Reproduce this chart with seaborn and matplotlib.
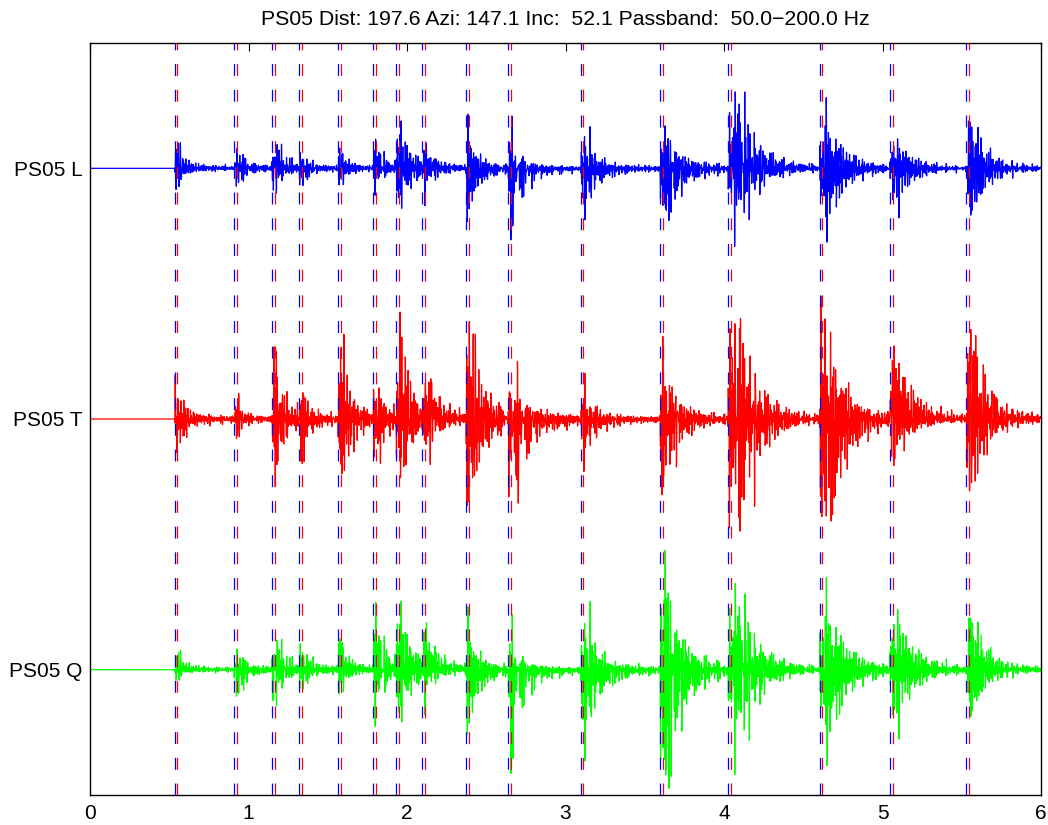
import numpy as np
import matplotlib
matplotlib.use("Agg")
import matplotlib.pyplot as plt
import seaborn as sns

# ---------------------------------------------------------------- data
station = "PS05"
components = ["L", "T", "Q"]
trace_colors = ["#0000ff", "#ff0000", "#00ff00"]
trace_offsets = [3, 2, 1]

title_text = "PS05 Dist: 197.6 Azi: 147.1 Inc:  52.1 Passband:  50.0\u2212200.0 Hz"
x_ticks = [0, 1, 2, 3, 4, 5, 6]

# arrival picks (s)
pick_blue = [0.534, 0.909, 1.148, 1.319, 1.565, 1.786, 1.931, 2.096, 2.372, 2.637,
             3.096, 3.596, 4.023, 4.603, 5.045, 5.529]
pick_red = [0.551, 0.926, 1.165, 1.336, 1.582, 1.803, 1.948, 2.113, 2.389, 2.654,
            3.113, 3.613, 4.042, 4.620, 5.064, 5.546]

# time from onset to envelope maximum, and decay time (s), per arrival
rise_time = [0.008, 0.008, 0.008, 0.008, 0.010, 0.015, 0.010, 0.020, 0.010, 0.010,
             0.010, 0.015, 0.070, 0.040, 0.030, 0.030]
decay_time = [0.040, 0.035, 0.045, 0.040, 0.045, 0.055, 0.060, 0.060, 0.060, 0.060,
              0.060, 0.080, 0.110, 0.095, 0.095, 0.080]

# peak positive / negative excursion of each arrival (trace units)
L_up = [0.104, 0.084, 0.092, 0.060, 0.080, 0.116, 0.192, 0.096, 0.216, 0.212,
        0.172, 0.164, 0.304, 0.284, 0.120, 0.192]
L_down = [0.080, 0.072, 0.104, 0.072, 0.068, 0.108, 0.160, 0.140, 0.216, 0.288,
          0.200, 0.196, 0.308, 0.300, 0.196, 0.188]
T_up = [0.176, 0.100, 0.296, 0.104, 0.332, 0.148, 0.408, 0.164, 0.384, 0.228,
        0.192, 0.332, 0.404, 0.500, 0.280, 0.344]
T_down = [0.132, 0.084, 0.272, 0.176, 0.244, 0.176, 0.232, 0.164, 0.364, 0.336,
          0.200, 0.300, 0.444, 0.408, 0.180, 0.296]
Q_up = [0.072, 0.080, 0.116, 0.108, 0.124, 0.264, 0.276, 0.188, 0.248, 0.224,
        0.284, 0.476, 0.344, 0.360, 0.244, 0.216]
Q_down = [0.040, 0.104, 0.144, 0.072, 0.096, 0.232, 0.216, 0.164, 0.256, 0.416,
          0.360, 0.468, 0.416, 0.376, 0.268, 0.184]

# background level after the first arrival (trace units)
noise_level = [0.014, 0.014, 0.012]

peaks_up = [L_up, T_up, Q_up]
peaks_down = [L_down, T_down, Q_down]

# ---------------------------------------------------------------- synthesis
t = np.arange(0.0, 6.0, 0.001)                       # 1 kHz samples
band_freqs = np.array([52.3, 61.7, 74.9, 88.1, 101.6, 117.4, 132.8,
                       149.3, 166.2, 181.7, 196.4])  # inside the 50-200 Hz band


def band_carrier(tt, key):
    ph = (np.arange(len(band_freqs)) + 1) * (key * 2.39996 + 0.7)
    s = np.sin(2 * np.pi * band_freqs[:, None] * tt[None, :] + ph[:, None]).sum(0)
    s /= np.abs(s).max()
    return np.sign(s) * np.abs(s) ** 1.1


def envelope(tt, t0, rise, tau):
    dt = tt - t0
    on = np.clip(dt / 0.004, 0, 1)
    ramp = 0.6 + 0.4 * np.clip(dt / rise, 0, 1)
    decay = np.exp(-np.clip(dt - rise, 0, None) / tau)
    coda = 0.15 * np.exp(-np.clip(dt, 0, None) / 0.35)
    return on * (ramp * decay + coda)


traces = []
for j in range(3):
    sig = np.zeros_like(t)
    for k, t0 in enumerate(pick_blue):
        c = band_carrier(t, 17 * j + k + 1) * envelope(t, t0, rise_time[k], decay_time[k])
        win = (t >= t0) & (t <= t0 + rise_time[k] + 3 * decay_time[k])
        pmax = c[win].max()
        nmin = -c[win].min()
        sig += np.where(c > 0, c * peaks_up[j][k] / pmax, c * peaks_down[j][k] / nmin)
    bg = band_carrier(t, 101 + j)
    bg = bg / np.abs(bg).max() * noise_level[j] * np.clip((t - pick_blue[0]) / 0.004, 0, 1)
    traces.append(trace_offsets[j] + sig + bg)

# ---------------------------------------------------------------- figure
sns.set_theme(style="white")
plt.rcParams["font.family"] = ["Liberation Sans", "DejaVu Sans"]
plt.rcParams["lines.scale_dashes"] = False

fig = plt.figure(figsize=(10.48, 8.25), dpi=100)
ax = fig.add_axes([90 / 1048, 1 - 795 / 825, (1041 - 90) / 1048, (795 - 43) / 825])

for j in range(3):
    sns.lineplot(x=t, y=traces[j], ax=ax, color=trace_colors[j], linewidth=0.9,
                 estimator=None, sort=False, errorbar=None, legend=False)

dash = (0, (8.6, 9.9))
for tb, tr in zip(pick_blue, pick_red):
    ax.axvline(tb, color="#0000ff", lw=0.9, ls=dash, zorder=3)
    ax.axvline(tr, color="#ff0000", lw=0.9, ls=dash, zorder=3)

ax.set_xlim(0, 6)
ax.set_ylim(0.5, 3.5)
ax.set_xticks(x_ticks)
ax.set_xticklabels([str(v) for v in x_ticks])
ax.set_yticks(trace_offsets)
ax.set_yticklabels([f"{station} {c}" for c in components])
ax.tick_params(axis="x", direction="in", length=6, width=0.8, top=True,
               labelsize=15, pad=6.3, color="black", labelcolor="black")
ax.tick_params(axis="y", length=0, labelsize=15, pad=5.5, labelcolor="black")
for sp in ax.spines.values():
    sp.set_color("black")
    sp.set_linewidth(1.0)
ax.set_xlabel("")
ax.set_ylabel("")
ax.set_title(title_text, fontsize=15.3, pad=13, color="black")

fig.savefig("out.png", dpi=100, facecolor="white")
